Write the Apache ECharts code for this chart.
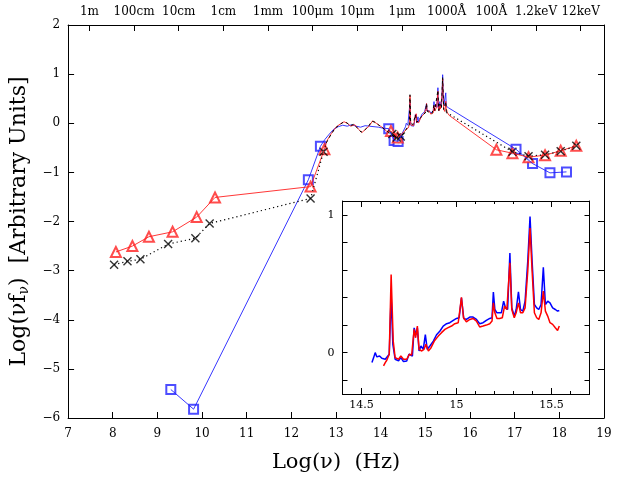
<!DOCTYPE html>
<html>
<head>
<meta charset="utf-8">
<script src="https://cdn.jsdelivr.net/npm/echarts@6/dist/echarts.min.js"></script>
<style>
  html, body { margin: 0; padding: 0; background: #fff; }
  #chart { width: 640px; height: 479px; }
</style>
</head>
<body>
<div id="chart"></div>
<script>
// photometric points (log nu, log nu f_nu)
var redPhotX = [8.07, 8.44, 8.81, 9.34, 9.88, 10.29, 12.43, 12.74, 14.23, 14.38, 16.59, 16.95, 17.31, 17.68, 18.03, 18.38];
var redPhotY = [-2.62, -2.50, -2.31, -2.21, -1.91, -1.51, -1.29, -0.53, -0.16, -0.29, -0.54, -0.61, -0.69, -0.65, -0.56, -0.46];
var blackPhotX = [8.03, 8.33, 8.62, 9.24, 9.85, 10.17, 12.43, 12.72, 14.26, 14.36, 14.45, 16.95, 17.31, 17.68, 18.03, 18.38];
var blackPhotY = [-2.88, -2.81, -2.77, -2.46, -2.34, -2.04, -1.53, -0.58, -0.22, -0.29, -0.27, -0.58, -0.67, -0.64, -0.57, -0.46];
var bluePhotX = [9.30, 9.81, 12.38, 12.65, 14.18, 14.30, 14.39, 17.03, 17.40, 17.79, 18.16];
var bluePhotY = [-5.42, -5.82, -1.15, -0.47, -0.11, -0.35, -0.37, -0.53, -0.82, -1.01, -0.99];

// infrared spectra
var redIrX = [12.80, 12.90, 13.00, 13.10, 13.18, 13.25, 13.33, 13.42, 13.50, 13.58, 13.66, 13.74, 13.82, 13.90, 13.98, 14.06, 14.14];
var redIrY = [-0.35, -0.20, -0.08, -0.01, 0.03, 0.00, -0.06, -0.03, -0.12, -0.19, -0.12, -0.06, 0.05, 0.00, -0.05, -0.10, -0.17];
var blueIrX = [12.75, 12.85, 12.95, 13.05, 13.15, 13.25, 13.35, 13.45, 13.55, 13.65, 13.75, 13.85, 13.95, 14.05];
var blueIrY = [-0.33, -0.22, -0.12, -0.07, -0.04, -0.06, -0.03, -0.06, -0.08, -0.05, -0.06, -0.07, -0.08, -0.10];

// black dashed spectrum (IR + optical)
var blackSpecX = [12.78, 12.88, 12.98, 13.08, 13.16, 13.24, 13.32, 13.40, 13.48, 13.56, 13.64, 13.72, 13.80, 13.88, 13.96, 14.04, 14.12, 14.20,
  14.30, 14.40, 14.50, 14.60, 14.64, 14.655, 14.67, 14.72, 14.777, 14.79, 14.81, 14.85, 14.90, 14.95, 15.00, 15.026, 15.045, 15.10, 15.15,
  15.194, 15.21, 15.25, 15.281, 15.30, 15.326, 15.36, 15.387, 15.41, 15.44, 15.457, 15.47];
var blackSpecY = [-0.40, -0.24, -0.10, -0.03, 0.02, 0.01, -0.05, -0.02, -0.10, -0.18, -0.14, -0.07, 0.04, 0.02, -0.04, -0.09, -0.15, -0.20,
  -0.28, -0.30, -0.22, -0.08, -0.03, 0.58, 0.02, -0.03, 0.17, 0.14, 0.02, 0.03, 0.12, 0.18, 0.21, 0.40, 0.24, 0.22, 0.20,
  0.37, 0.26, 0.30, 0.67, 0.26, 0.39, 0.31, 0.93, 0.28, 0.27, 0.44, 0.22];

// optical spectra (also shown in the inset)
var redOptX = [14.616, 14.625, 14.633, 14.646, 14.656, 14.667, 14.677, 14.695, 14.707, 14.721, 14.738, 14.752, 14.764, 14.777, 14.785,
  14.794, 14.803, 14.817, 14.829, 14.839, 14.852, 14.866, 14.883, 14.904, 14.921, 14.939, 14.956, 14.974, 14.991, 15.009, 15.017, 15.026,
  15.037, 15.052, 15.070, 15.087, 15.105, 15.122, 15.140, 15.157, 15.175, 15.187, 15.194, 15.202, 15.213, 15.227, 15.241, 15.253, 15.265,
  15.281, 15.291, 15.304, 15.314, 15.326, 15.337, 15.349, 15.361, 15.375, 15.387, 15.398, 15.410, 15.422, 15.433, 15.445, 15.457, 15.468,
  15.480, 15.492, 15.506, 15.520, 15.532, 15.541];
var redOptY = [-0.096, -0.072, -0.055, -0.012, 0.566, 0.084, -0.036, -0.048, -0.024, -0.048, -0.048, -0.012, -0.017, 0.169, 0.108,
  0.193, 0.024, 0.012, 0.024, 0.060, 0.012, 0.036, 0.084, 0.120, 0.145, 0.169, 0.181, 0.193, 0.210, 0.217, 0.301, 0.402,
  0.253, 0.224, 0.241, 0.248, 0.229, 0.186, 0.193, 0.200, 0.210, 0.229, 0.361, 0.289, 0.248, 0.248, 0.253, 0.337, 0.313,
  0.651, 0.313, 0.253, 0.289, 0.361, 0.289, 0.289, 0.325, 0.590, 0.904, 0.590, 0.289, 0.253, 0.241, 0.289, 0.446, 0.301,
  0.265, 0.217, 0.205, 0.181, 0.161, 0.193];
var blueOptX = [14.555, 14.564, 14.572, 14.581, 14.595, 14.607, 14.625, 14.633, 14.646, 14.656, 14.665, 14.677, 14.695, 14.707, 14.721,
  14.738, 14.750, 14.759, 14.768, 14.777, 14.787, 14.794, 14.803, 14.813, 14.825, 14.836, 14.846, 14.860, 14.878, 14.895, 14.913, 14.930,
  14.948, 14.965, 14.983, 15.000, 15.014, 15.026, 15.038, 15.052, 15.070, 15.087, 15.105, 15.122, 15.140, 15.157, 15.175, 15.187, 15.194,
  15.202, 15.213, 15.223, 15.236, 15.248, 15.258, 15.269, 15.281, 15.291, 15.304, 15.314, 15.326, 15.337, 15.349, 15.361, 15.375, 15.387,
  15.398, 15.410, 15.422, 15.433, 15.445, 15.457, 15.468, 15.480, 15.492, 15.506, 15.520, 15.532, 15.541];
var blueOptY = [-0.072, -0.036, 0.000, -0.031, -0.024, -0.041, -0.048, -0.041, -0.012, 0.420, 0.060, -0.048, -0.060, -0.036, -0.065,
  -0.060, -0.012, -0.007, -0.024, 0.180, 0.130, 0.180, 0.012, 0.048, 0.024, 0.130, 0.024, 0.048, 0.084, 0.130, 0.157, 0.193,
  0.210, 0.217, 0.234, 0.248, 0.253, 0.398, 0.248, 0.241, 0.258, 0.258, 0.241, 0.210, 0.217, 0.234, 0.248, 0.253, 0.440,
  0.313, 0.289, 0.301, 0.289, 0.373, 0.325, 0.313, 0.723, 0.325, 0.265, 0.313, 0.441, 0.313, 0.301, 0.373, 0.663, 0.988,
  0.663, 0.349, 0.325, 0.313, 0.349, 0.619, 0.349, 0.373, 0.361, 0.325, 0.313, 0.301, 0.306];

// wavelength / energy ticks on the top axis
var topTickPos = [7.477, 8.477, 9.477, 10.477, 11.477, 12.477, 13.477, 14.477, 15.477, 16.477, 17.477, 18.477];
var topTickLabels = ['1m', '100cm', '10cm', '1cm', '1mm', '100μm', '10μm', '1μm', '1000Å', '100Å', '1.2keV', '12keV'];

// inset ticks
var insetMinorX = [14.4, 14.5, 14.6, 14.7, 14.8, 14.9, 15.0, 15.1, 15.2, 15.3, 15.4, 15.5, 15.6, 15.7];
var insetMajorX = [14.5, 15, 15.5];
var insetTickY = [-0.2, 0, 0.2, 0.4, 0.6, 0.8, 1.0];
var insetLabelY = [0, 1];

function zip(xs, ys) {
  return xs.map(function (x, i) { return [x, ys[i]]; });
}
function merged() {
  var all = [];
  for (var i = 0; i < arguments.length; i++) all = all.concat(arguments[i]);
  return all.sort(function (a, b) { return a[0] - b[0]; });
}

var redPhot = zip(redPhotX, redPhotY);
var blackPhot = zip(blackPhotX, blackPhotY);
var bluePhot = zip(bluePhotX, bluePhotY);
var redOpt = zip(redOptX, redOptY);
var blueOpt = zip(blueOptX, blueOptY);
var blackSpec = zip(blackSpecX, blackSpecY);

var redLine = merged(redPhot, zip(redIrX, redIrY), redOpt);
var blueLine = merged(bluePhot, zip(blueIrX, blueIrY), blueOpt);
// dotted connectors for black points, broken where the dashed spectrum is
var blackDotted = blackPhot.filter(function (p) { return p[0] < 13; })
  .concat([blackSpec[0], ['-', '-'], blackSpec[blackSpec.length - 1]])
  .concat(blackPhot.filter(function (p) { return p[0] > 16; }));

var serif = 'DejaVu Serif';
var RED = '#ff2020', BLUE = '#2020ff';

var chart = echarts.init(document.getElementById('chart'));

var frameAxis = { onZero: false, lineStyle: { color: '#000', width: 1 } };
var option = {
  animation: false,
  backgroundColor: '#fff',
  grid: [
    { left: 65.5, right: 36, top: 25, bottom: 61 },
    { left: 342.5, right: 50.5, top: 201, bottom: 85, show: true, backgroundColor: '#fff', borderWidth: 0 }
  ],
  xAxis: [
    {
      type: 'value', gridIndex: 0, position: 'bottom', min: 7, max: 19, interval: 1,
      axisLine: frameAxis, splitLine: { show: false },
      axisTick: { inside: true, length: 6, lineStyle: { color: '#000' } },
      axisLabel: { color: '#000', fontFamily: serif, fontSize: 12, margin: 10 },
      name: 'Log(ν)  (Hz)', nameLocation: 'middle', nameGap: 34,
      nameTextStyle: { color: '#000', fontFamily: serif, fontSize: 21 }
    },
    {
      type: 'value', gridIndex: 0, position: 'top', min: 7, max: 19,
      axisLine: frameAxis, splitLine: { show: false },
      axisTick: { inside: true, length: 6, customValues: topTickPos, lineStyle: { color: '#000' } },
      axisLabel: {
        color: '#000', fontFamily: serif, fontSize: 12, margin: 7, customValues: topTickPos,
        formatter: function (v) {
          for (var i = 0; i < topTickPos.length; i++) {
            if (Math.abs(topTickPos[i] - v) < 1e-6) return topTickLabels[i];
          }
          return '';
        }
      }
    },
    {
      type: 'value', gridIndex: 1, position: 'bottom', min: 14.4, max: 15.7,
      axisLine: frameAxis, splitLine: { show: false },
      axisTick: { inside: true, length: 3, customValues: insetMinorX, lineStyle: { color: '#000' } },
      axisLabel: { color: '#000', fontFamily: serif, fontSize: 11, margin: 6, customValues: insetMajorX }
    },
    {
      type: 'value', gridIndex: 1, position: 'bottom', min: 14.4, max: 15.7,
      axisLine: frameAxis, splitLine: { show: false },
      axisTick: { inside: true, length: 6, customValues: insetMajorX, lineStyle: { color: '#000' } },
      axisLabel: { show: false }
    },
    {
      type: 'value', gridIndex: 1, position: 'top', min: 14.4, max: 15.7,
      axisLine: frameAxis, splitLine: { show: false },
      axisTick: { inside: true, length: 3, customValues: insetMinorX, lineStyle: { color: '#000' } },
      axisLabel: { show: false }
    },
    {
      type: 'value', gridIndex: 1, position: 'top', min: 14.4, max: 15.7,
      axisLine: frameAxis, splitLine: { show: false },
      axisTick: { inside: true, length: 6, customValues: insetMajorX, lineStyle: { color: '#000' } },
      axisLabel: { show: false }
    }
  ],
  yAxis: [
    {
      type: 'value', gridIndex: 0, position: 'left', min: -6, max: 2, interval: 1,
      axisLine: frameAxis, splitLine: { show: false },
      axisTick: { inside: true, length: 6, lineStyle: { color: '#000' } },
      axisLabel: {
        color: '#000', fontFamily: serif, fontSize: 12, margin: 8,
        formatter: function (v) { return String(v).replace('-', '−'); }
      },
      name: 'Log(νf{sub|ν})  [Arbitrary Units]', nameLocation: 'middle', nameGap: 30,
      nameTextStyle: {
        color: '#000', fontFamily: serif, fontSize: 22,
        rich: { sub: { fontFamily: serif, fontSize: 14, color: '#000', padding: [11, 0, 0, 0] } }
      }
    },
    {
      type: 'value', gridIndex: 0, position: 'right', min: -6, max: 2, interval: 1,
      axisLine: frameAxis, splitLine: { show: false },
      axisTick: { inside: true, length: 6, lineStyle: { color: '#000' } },
      axisLabel: { show: false }
    },
    {
      type: 'value', gridIndex: 1, position: 'left', min: -0.3, max: 1.1,
      axisLine: frameAxis, splitLine: { show: false },
      axisTick: { inside: true, length: 5, customValues: insetTickY, lineStyle: { color: '#000' } },
      axisLabel: { color: '#000', fontFamily: serif, fontSize: 11, margin: 8, customValues: insetLabelY }
    },
    {
      type: 'value', gridIndex: 1, position: 'right', min: -0.3, max: 1.1,
      axisLine: frameAxis, splitLine: { show: false },
      axisTick: { inside: true, length: 5, customValues: insetTickY, lineStyle: { color: '#000' } },
      axisLabel: { show: false }
    }
  ],
  series: [
    {
      type: 'line', xAxisIndex: 0, yAxisIndex: 0, data: blueLine, showSymbol: false,
      lineStyle: { color: BLUE, width: 0.9 }, silent: true
    },
    {
      type: 'line', xAxisIndex: 0, yAxisIndex: 0, data: redLine, showSymbol: false,
      lineStyle: { color: RED, width: 0.9 }, silent: true
    },
    {
      type: 'line', xAxisIndex: 0, yAxisIndex: 0, data: blackSpec, showSymbol: false,
      lineStyle: { color: '#000', width: 1, type: [3, 3] }, silent: true
    },
    {
      type: 'line', xAxisIndex: 0, yAxisIndex: 0, data: blackDotted, showSymbol: false, connectNulls: false,
      lineStyle: { color: '#000', width: 1.2, type: [1.2, 3] }, silent: true
    },
    {
      type: 'scatter', xAxisIndex: 0, yAxisIndex: 0, data: bluePhot,
      symbol: 'emptyRect', symbolSize: 9, itemStyle: { color: BLUE, borderWidth: 1 }, silent: true
    },
    {
      type: 'scatter', xAxisIndex: 0, yAxisIndex: 0, data: redPhot,
      symbol: 'emptyTriangle', symbolSize: 10, itemStyle: { color: RED, borderWidth: 1 }, silent: true
    },
    {
      type: 'scatter', xAxisIndex: 0, yAxisIndex: 0, data: blackPhot,
      symbol: 'path://M0,0L10,10M10,0L0,10', symbolSize: 8,
      itemStyle: { color: 'transparent', borderColor: '#000', borderWidth: 1.4 }, silent: true
    },
    {
      type: 'line', xAxisIndex: 2, yAxisIndex: 2, data: blueOpt, showSymbol: false,
      lineStyle: { color: '#0000ff', width: 1.5 }, silent: true
    },
    {
      type: 'line', xAxisIndex: 2, yAxisIndex: 2, data: redOpt, showSymbol: false,
      lineStyle: { color: '#ff0000', width: 1.5 }, silent: true
    }
  ]
};
chart.setOption(option);
</script>
</body>
</html>
